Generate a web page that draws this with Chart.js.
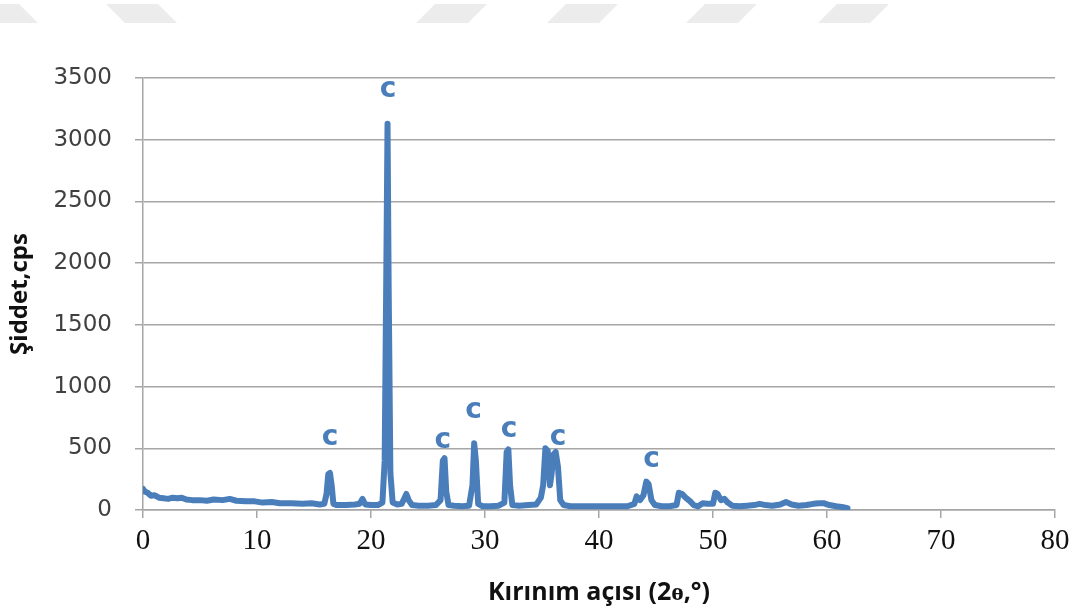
<!DOCTYPE html>
<html>
<head>
<meta charset="utf-8">
<script src="https://cdn.jsdelivr.net/npm/chart.js@4"></script>
<style>
  body { margin: 0; background: #fff; }
  #wrap { position: relative; width: 1081px; height: 612px; }
  .mark { position: absolute; top: 4px; height: 19px; width: 71px; background: #ececec; }
  .back { clip-path: polygon(0 0, 52px 0, 71px 100%, 19px 100%); }
  .fwd { clip-path: polygon(19px 0, 71px 0, 52px 100%, 0 100%); }
</style>
</head>
<body>
<div id="wrap">
  <div class="mark back" style="left:-33px"></div>
  <div class="mark back" style="left:106px"></div>
  <div class="mark fwd" style="left:416px"></div>
  <div class="mark fwd" style="left:547px"></div>
  <div class="mark fwd" style="left:686px"></div>
  <div class="mark fwd" style="left:818px"></div>
  <canvas id="xrd" width="1081" height="612" style="position:absolute;left:0;top:0"></canvas>
</div>
<script>
// 2-theta angles and intensity (cps)
const angle = [0, 0.15, 0.4, 0.7, 1.0, 1.4, 1.8, 2.2, 2.6, 3.0, 3.4, 3.8, 4.3, 5.0, 5.6, 6.2, 7.0, 7.6, 8.2, 9.0,
  9.8, 10.5, 11.3, 12.0, 13.0, 14.0, 14.8, 15.5, 15.9, 16.1, 16.25, 16.4, 16.55, 16.7, 17.0, 17.8, 18.6, 19.0, 19.25, 19.5,
  20.0, 20.6, 21.0, 21.2, 21.35, 21.45, 21.55, 21.7, 21.9, 22.3, 22.7, 22.95, 23.1, 23.3, 23.6, 24.2, 25.0, 25.7, 26.1, 26.3,
  26.45, 26.6, 26.8, 27.3, 28.0, 28.6, 28.9, 29.05, 29.2, 29.4, 29.8, 30.5, 31.2, 31.7, 31.9, 32.05, 32.2, 32.4, 33.0, 33.8,
  34.5, 34.9, 35.1, 35.3, 35.5, 35.7, 35.85, 36.0, 36.2, 36.4, 36.6, 36.9, 37.5, 38.5, 39.5, 40.5, 41.5, 42.5, 43.1, 43.3,
  43.6, 43.9, 44.15, 44.35, 44.6, 44.9, 45.5, 46.2, 46.8, 47.0, 47.3, 47.6, 48.0, 48.3, 48.7, 49.1, 49.5, 50.0, 50.2, 50.4,
  50.7, 51.0, 51.3, 51.7, 52.3, 53.0, 53.6, 54.1, 54.6, 55.2, 55.9, 56.4, 56.9, 57.5, 58.2, 58.8, 59.3, 59.7, 60.2, 60.8,
  61.3, 61.8]
const intensity = [170, 150, 140, 115, 120, 100, 95, 90, 100, 95, 100, 85, 80, 80, 75, 85, 80, 90, 75, 70,
  70, 60, 65, 55, 55, 50, 55, 45, 50, 130, 290, 300, 200, 50, 40, 40, 45, 50, 90, 45,
  40, 40, 60, 400, 2000, 3130, 1800, 300, 60, 45, 50, 100, 130, 80, 40, 35, 35, 40, 80, 400,
  420, 150, 40, 35, 30, 35, 200, 540, 400, 50, 30, 30, 35, 60, 470, 490, 200, 40, 35, 40,
  45, 100, 200, 500, 480, 200, 300, 450, 470, 350, 80, 40, 30, 30, 30, 30, 30, 30, 50, 110,
  80, 120, 230, 210, 80, 40, 30, 30, 40, 140, 130, 100, 70, 40, 30, 55, 50, 50, 140, 130,
  80, 90, 60, 35, 30, 35, 40, 50, 40, 35, 45, 65, 45, 35, 40, 50, 55, 55, 40, 30,
  25, 15]

// "c" peak markers
const peakX = [16.4, 21.5, 26.3, 29.0, 32.1, 36.4, 44.6]
const peakY = [583, 3403, 559, 802, 648, 583, 410]
const peakText = 'c'

const blue = '#4a7ebb'
const gridGrey = '#a6a6a6'

const points = angle.map((a, i) => ({ x: a, y: intensity[i] }))

const peakLabels = {
  id: 'peakLabels',
  afterDatasetsDraw(chart) {
    const ctx = chart.ctx
    const xs = chart.scales.x, ys = chart.scales.y
    ctx.save()
    ctx.fillStyle = blue
    ctx.font = 'bold 28px "DejaVu Sans"'
    ctx.textAlign = 'center'
    ctx.textBaseline = 'middle'
    for (let i = 0; i < peakX.length; i++) {
      ctx.fillText(peakText, xs.getPixelForValue(peakX[i]), ys.getPixelForValue(peakY[i]))
    }
    ctx.restore()
  }
}

new Chart(document.getElementById('xrd'), {
  type: 'line',
  data: {
    datasets: [{
      data: points,
      borderColor: blue,
      borderWidth: 6,
      borderJoinStyle: 'round',
      borderCapStyle: 'round',
      pointRadius: 0,
      tension: 0,
      fill: false
    }]
  },
  options: {
    responsive: false,
    animation: false,
    layout: { padding: { top: 78, right: 26, left: 6, bottom: 0 } },
    plugins: { legend: { display: false }, tooltip: { enabled: false } },
    scales: {
      x: {
        type: 'linear',
        min: 0, max: 80,
        ticks: { stepSize: 10, color: '#111', font: { family: 'Liberation Serif', size: 29 }, padding: 6, maxRotation: 0,
          callback: v => String(v) },
        grid: { drawOnChartArea: false, color: gridGrey, lineWidth: 1.5, tickLength: 8 },
        border: { color: gridGrey, width: 1.5 },
        title: { display: true, text: 'Kırınım açısı (2ɵ,°)', color: '#111', font: { family: 'Open Sans', size: 25, weight: 'bold' }, padding: { top: 4 } },
        afterFit(s) { s.height = 102 }
      },
      y: {
        min: 0, max: 3500,
        ticks: { stepSize: 500, color: '#404040', font: { family: 'DejaVu Sans', size: 23 }, padding: 23,
          callback: v => String(v) },
        grid: { color: gridGrey, lineWidth: 1.5, tickLength: 8 },
        border: { color: gridGrey, width: 1.5 },
        title: { display: true, text: 'Şiddet,cps', color: '#111', font: { family: 'Open Sans', size: 24, weight: 'bold' }, padding: { top: 0, bottom: 0 } },
        afterFit(s) { s.width = 137 }
      }
    }
  },
  plugins: [peakLabels]
})
</script>
</body>
</html>
